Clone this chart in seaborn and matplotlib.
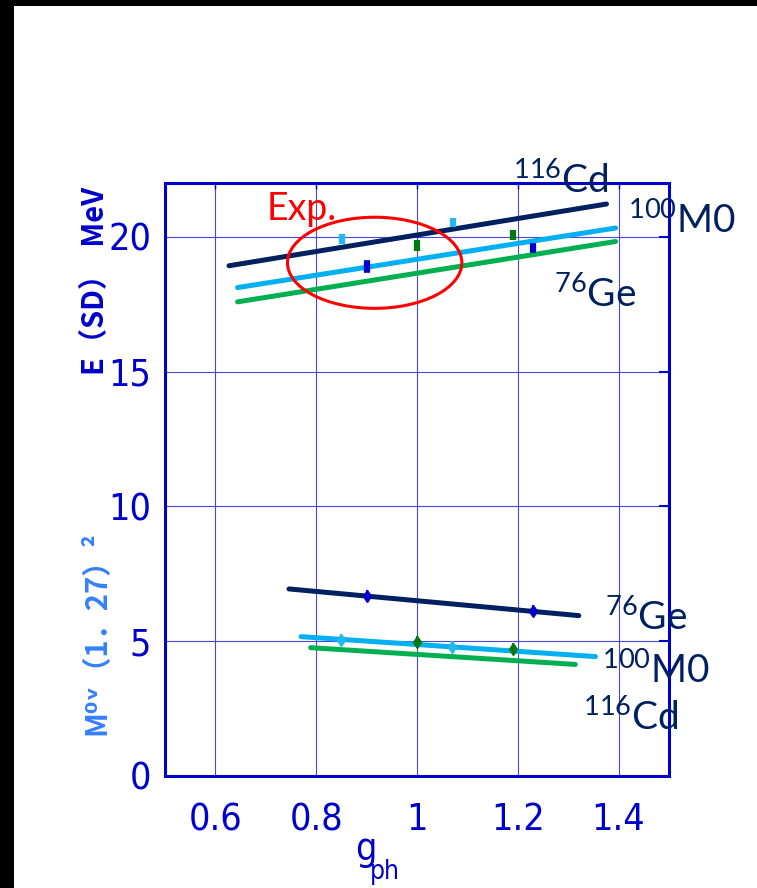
import matplotlib
matplotlib.use("Agg")
import matplotlib.pyplot as plt
import seaborn as sns
from matplotlib.patches import Ellipse, Rectangle

# E(SD) fitted lines (g_ph ends, energy ends in MeV)
sd_cd_g = [0.627, 1.376]
sd_cd_e = [18.93, 21.22]
sd_mo_g = [0.644, 1.394]
sd_mo_e = [18.12, 20.33]
sd_ge_g = [0.644, 1.394]
sd_ge_e = [17.59, 19.83]

# M0v (1.27)^2 fitted lines
m_ge_g = [0.746, 1.321]
m_ge_m = [6.94, 5.95]
m_mo_g = [0.770, 1.354]
m_mo_m = [5.17, 4.43]
m_cd_g = [0.789, 1.314]
m_cd_m = [4.76, 4.14]

# experimental points
exp_g = [0.851, 0.900, 1.000, 1.071, 1.190, 1.231]
exp_sd = [19.93, 18.90, 19.68, 20.54, 20.07, 19.60]
exp_sd_err = [0.19, 0.2, 0.22, 0.16, 0.2, 0.15]
exp_m_g = [0.850, 0.900, 1.000, 1.069, 1.190, 1.231]
exp_m = [5.05, 6.68, 4.98, 4.77, 4.70, 6.12]
exp_colors = ["#22B8F0", "#0000CC", "#007A10", "#22B8F0", "#007A10", "#0000CC"]

xticks = [0.6, 0.8, 1.0, 1.2, 1.4]
xticklabels = ["0.6", "0.8", "1", "1.2", "1.4"]
yticks = [0, 5, 10, 15, 20]

NAVY = "#002060"
LBLUE = "#00B0F0"
GREEN = "#00B050"
BLUE = "#0000CC"

sns.set_style("white")
plt.rcParams["font.family"] = ["DejaVu Sans"]
plt.rcParams["font.stretch"] = "condensed"
plt.rcParams["mathtext.fontset"] = "custom"
plt.rcParams["mathtext.rm"] = "Lato"
plt.rcParams["mathtext.it"] = "Lato:italic"
plt.rcParams["mathtext.bf"] = "Lato:bold"

fig = plt.figure(figsize=(7.57, 8.88), dpi=100)
ax = fig.add_axes([165 / 757, 1 - 776 / 888, 504 / 757, 593 / 888])

lw = 3.6
for g, v, c in [(sd_cd_g, sd_cd_e, NAVY), (sd_mo_g, sd_mo_e, LBLUE), (sd_ge_g, sd_ge_e, GREEN),
                (m_ge_g, m_ge_m, NAVY), (m_mo_g, m_mo_m, LBLUE), (m_cd_g, m_cd_m, GREEN)]:
    sns.lineplot(x=g, y=v, color=c, linewidth=lw, ax=ax, zorder=3)

for i in range(len(exp_g)):
    c = exp_colors[i]
    cap = 2 if c == BLUE else 0
    ax.errorbar(exp_g[i], exp_sd[i], yerr=exp_sd_err[i], fmt="none", ecolor=c,
                elinewidth=4.5, capsize=cap, capthick=1.2, zorder=4)
    ax.errorbar(exp_m_g[i], exp_m[i], yerr=0.22, fmt="d", color=c, markersize=6,
                elinewidth=1.5, zorder=4)

ax.add_patch(Ellipse((0.916, 19.04), 0.346, 3.38, fill=False, edgecolor="#FF0000",
                     linewidth=2.2, zorder=5))

ax.set_xlim(0.5, 1.5)
ax.set_ylim(0, 22)
ax.set_xticks(xticks)
ax.set_xticklabels(xticklabels)
ax.set_yticks(yticks)
ax.grid(True, color="#4848E0", linewidth=0.8)
for s in ax.spines.values():
    s.set_color(BLUE)
    s.set_linewidth(2.2)
ax.tick_params(axis="both", direction="in", top=True, right=True, colors=BLUE)
ax.tick_params(axis="x", length=4, width=1, pad=19, labelsize=27)
ax.tick_params(axis="y", length=7, width=1.5, pad=10, labelsize=27)
for lbl in ax.get_xticklabels() + ax.get_yticklabels():
    lbl.set_fontstretch("condensed")
ax.set_xlabel("")
ax.set_ylabel("")

iso = dict(fontsize=28, color=NAVY, family=["Lato", "DejaVu Sans"], ha="left", va="baseline",
           fontstretch="normal")
ax.text(1.191, 21.63, r"$^{116}$Cd", **iso)
ax.text(1.419, 20.15, r"$^{100}$M0", **iso)
ax.text(1.271, 17.40, r"$^{76}$Ge", **iso)
ax.text(1.374, 5.42, r"$^{76}$Ge", **iso)
ax.text(1.367, 3.45, r"$^{100}$M0", **iso)
ax.text(1.330, 1.71, r"$^{116}$Cd", **iso)
ax.text(0.702, 20.63, "Exp.", fontsize=27, color="#FF0000", family=["Lato", "DejaVu Sans"],
        ha="left", va="baseline", fontstretch="normal")

fig.text(95 / 757, 1 - 281 / 888, "E（SD）  MeV", rotation=90, ha="center", va="center",
         fontsize=21, fontweight="bold", color=BLUE, fontstretch="normal",
         family=["Noto Sans CJK JP", "DejaVu Sans"])
fig.text(95 / 757, 1 - 633 / 888, "M⁰ᵛ（1．27）²", rotation=90, ha="center", va="center",
         fontsize=21, fontweight="bold", color="#3380FF", fontstretch="normal",
         family=["Noto Sans CJK JP", "DejaVu Sans"])
fig.text(355 / 757, 1 - 860 / 888, "g", fontsize=27, color=BLUE, ha="left", va="baseline")
fig.text(370 / 757, 1 - 879 / 888, "ph", fontsize=19, color=BLUE, ha="left", va="baseline")

# black frame bands at top and left
fig.add_artist(Rectangle((0, 1 - 6 / 888), 1, 6 / 888, transform=fig.transFigure,
                         facecolor="black", edgecolor="none"))
fig.add_artist(Rectangle((0, 0), 14 / 757, 1, transform=fig.transFigure,
                         facecolor="black", edgecolor="none"))

fig.savefig("out.png", dpi=100, facecolor="white")
